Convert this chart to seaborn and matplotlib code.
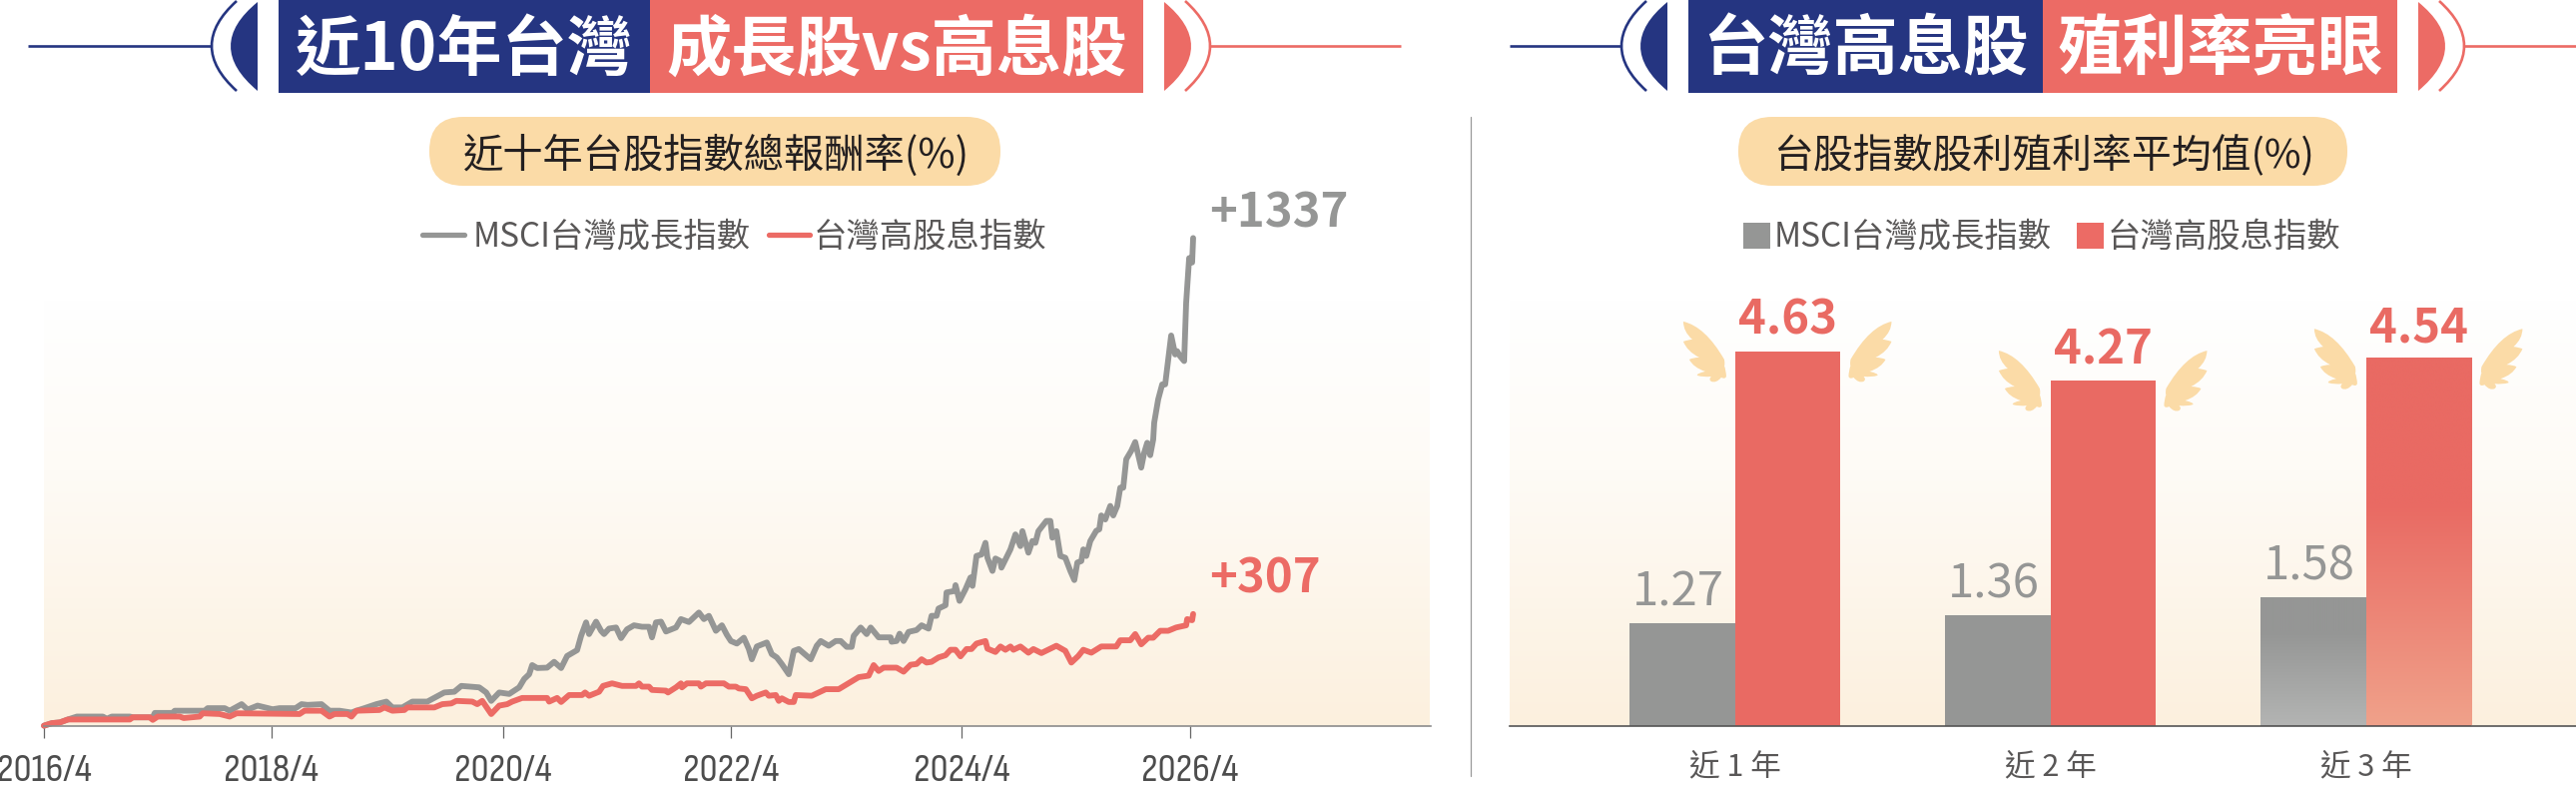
import numpy as np
import pandas as pd
import matplotlib
matplotlib.use("Agg")
import matplotlib.pyplot as plt
from matplotlib.colors import LinearSegmentedColormap
from matplotlib.lines import Line2D
from matplotlib.patches import FancyBboxPatch, PathPatch, Rectangle
from matplotlib.path import Path
import seaborn as sns

# Total return: (trading-sample number since 2016/4, cumulative return %)
growth_points = [(0,1),(8,8),(16,10),(24,18),(33,26),(39,26),(59,26),(63,20),(68,26),(86,26),(89,24),(109,24),(111,36),(129,36),(131,42),(161,42),(164,49),(181,49),(186,42),(198,60),(204,45),(214,56),(229,46),(236,49),(252,49),(258,60),(264,58),(278,60),(286,42),(296,42),(308,37),(313,42),(321,49),(333,60),(343,67),(349,51),(359,51),(369,67),(384,67),(401,92),(411,94),(418,110),(436,106),(443,92),(448,69),(456,92),(466,88),(476,106),(481,129),(486,142),(489,167),(494,159),(504,160),(511,176),(518,159),(524,192),(534,208),(538,247),(543,284),(546,252),(553,286),(558,261),(561,252),(566,267),(573,270),(578,241),(584,265),(591,276),(599,272),(606,272),(609,243),(613,284),(618,286),(623,259),(633,270),(638,293),(646,285),(656,311),(661,293),(666,302),(673,261),(679,276),(684,250),(688,233),(694,226),(701,242),(706,211),(709,183),(714,218),(724,229),(729,197),(734,188),(739,170),(746,142),(751,206),(756,211),(768,183),(774,220),(778,233),(786,220),(793,233),(798,233),(804,217),(809,217),(811,247),(818,270),(824,252),(828,270),(836,243),(848,243),(849,231),(854,233),(857,253),(861,233),(866,258),(874,263),(879,276),(886,267),(889,302),(894,302),(896,322),(903,331),(904,366),(912,370),(913,386),(917,343),(923,375),(928,407),(930,384),(934,466),(939,470),(943,502),(945,461),(950,425),(953,459),(958,452),(959,434),(968,484),(973,525),(978,493),(980,534),(986,475),(990,507),(993,502),(996,534),(1004,562),(1008,562),(1010,516),(1014,534),(1018,466),(1023,461),(1028,425),(1032,400),(1035,448),(1039,452),(1041,484),(1044,466),(1048,507),(1054,535),(1057,539),(1059,577),(1063,566),(1068,603),(1071,577),(1075,603),(1078,653),(1081,653),(1084,731),(1089,754),(1093,778),(1099,708),(1102,749),(1105,776),(1108,742),(1111,785),(1112,831),(1116,895),(1120,936),(1123,936),(1129,1070),(1133,1018),(1135,1027),(1138,1013),(1142,1000),(1144,1159),(1147,1282),(1150,1270),(1151,1337)]
income_points = [(0,1),(8,8),(16,10),(24,18),(86,18),(89,24),(106,24),(109,17),(114,26),(136,26),(140,22),(156,26),(159,35),(176,33),(186,26),(193,35),(256,33),(261,42),(278,42),(286,26),(291,33),(304,33),(308,26),(313,42),(336,44),(341,51),(349,42),(361,44),(364,51),(391,51),(399,60),(408,62),(413,69),(429,67),(434,60),(439,69),(448,33),(456,56),(464,60),(469,67),(479,77),(504,77),(506,67),(514,77),(518,66),(526,85),(539,85),(542,92),(546,83),(556,94),(560,110),(569,117),(579,110),(593,110),(596,117),(599,108),(606,108),(609,99),(623,97),(625,92),(633,106),(638,117),(639,106),(644,117),(656,117),(658,108),(663,117),(681,117),(686,108),(693,108),(696,103),(703,101),(709,76),(714,83),(723,92),(726,83),(733,85),(736,69),(739,76),(746,66),(751,66),(753,85),(769,83),(783,101),(796,101),(816,134),(826,138),(831,167),(836,151),(841,160),(854,160),(861,149),(868,168),(874,170),(879,183),(884,174),(889,176),(896,188),(903,194),(908,209),(913,209),(918,191),(924,211),(929,211),(934,226),(943,233),(945,212),(953,203),(958,218),(963,209),(968,218),(971,209),(978,218),(986,201),(991,211),(999,200),(1014,220),(1023,206),(1029,174),(1036,192),(1041,209),(1049,201),(1059,218),(1074,218),(1078,235),(1088,235),(1093,252),(1099,224),(1106,242),(1111,242),(1118,261),(1126,261),(1134,270),(1144,276),(1145,293),(1150,290),(1151,307)]
series_names = ["MSCI台灣成長指數", "台灣高股息指數"]
axis_ticks = [0, 228, 460, 688, 919, 1148]
axis_labels = ["2016/4", "2018/4", "2020/4", "2022/4", "2024/4", "2026/4"]

# Average dividend yield
periods = ["近 1 年", "近 2 年", "近 3 年"]
growth_yield = [1.27, 1.36, 1.58]
income_yield = [4.63, 4.27, 4.54]

NAVY = "#253581"
RED = "#EC6B65"
BAR_RED = "#E96A63"
GRAY = "#959695"
SAND = "#FBDBA7"
INK = "#231F20"
SOFT = "#595757"
W, H = 2580, 788

sns.set_theme(style="white")
plt.rcParams["font.family"] = ["Noto Sans CJK TC", "DejaVu Sans"]

fig = plt.figure(figsize=(W / 100, H / 100), dpi=100, facecolor="white")


def px_axes(x0, y0, x1, y1, **kw):
    """Axes placed by figure pixels, y measured from the top."""
    return fig.add_axes([x0 / W, 1 - y1 / H, (x1 - x0) / W, (y1 - y0) / H], **kw)


# Pixel canvas behind both charts for headers, pills and soft backdrops
canvas = px_axes(0, 0, W, H, zorder=0)
canvas.set_axis_off()
fade = LinearSegmentedColormap.from_list("fade", [(0, "#FFFFFF"), (0.4, "#FEFBF6"), (1, "#FCF0DE")])
ramp = np.linspace(0, 1, 256).reshape(-1, 1)
for bx0, bx1 in [(44, 1432), (1512, 2580)]:
    canvas.imshow(ramp, cmap=fade, extent=(bx0, bx1, 727, 300), aspect="auto", zorder=1)
canvas.set_xlim(0, W)
canvas.set_ylim(H, 0)


def header(nx0, nx1, rx1, left_line, right_line, left_text, right_text):
    canvas.add_patch(Rectangle((nx0, 0), nx1 - nx0, 93, fc=NAVY, ec="none", zorder=2))
    canvas.add_patch(Rectangle((nx1, 0), rx1 - nx1, 93, fc=RED, ec="none", zorder=2))
    for edge, sign, color in [(nx0, -1, NAVY), (rx1, 1, RED)]:
        flat = edge + sign * 21
        seg = Path([(flat, 2), (flat + sign * 54, 46), (flat, 91)],
                   [Path.MOVETO, Path.CURVE3, Path.CURVE3])
        canvas.add_patch(PathPatch(seg, fc=color, ec="none", zorder=2))
        tip = edge + sign * 42
        arc = Path([(tip, 1), (tip + sign * 50, 46), (tip, 91)],
                   [Path.MOVETO, Path.CURVE3, Path.CURVE3])
        canvas.add_patch(PathPatch(arc, fc="none", ec=color, lw=1.9, zorder=2))
    canvas.plot(left_line, [46, 46], color=NAVY, lw=1.9, solid_capstyle="butt", zorder=2)
    canvas.plot(right_line, [46, 46], color=RED, lw=1.9, solid_capstyle="butt", zorder=2)
    canvas.text((nx0 + nx1) / 2, 50, left_text, color="white", fontsize=47, fontweight="bold",
                ha="center", va="center", zorder=3)
    canvas.text((nx1 + rx1) / 2, 50, right_text, color="white", fontsize=47, fontweight="bold",
                ha="center", va="center", zorder=3)


header(279, 651, 1145, (28, 212), (1212, 1403), "近10年台灣", "成長股vs高息股")
header(1691, 2046, 2401, (1512, 1623), (2468, 2580), "台灣高息股", "殖利率亮眼")


def pill(x0, x1, text, size):
    canvas.add_patch(FancyBboxPatch((x0 + 34, 117 + 34), x1 - x0 - 68, 1,
                                    boxstyle="round,pad=34,rounding_size=34",
                                    fc=SAND, ec="none", zorder=2))
    canvas.text((x0 + x1) / 2 + 2, 156, text, color=INK, fontsize=size, ha="center", va="center", zorder=3)


pill(430, 1002, "近十年台股指數總報酬率(%)", 29)
pill(1741, 2351, "台股指數股利殖利率平均值(%)", 28.7)

canvas.plot([1473, 1473], [117, 777], color="#9A9A9A", lw=0.9, zorder=2)

# Legends
canvas.add_line(Line2D([423, 465], [235, 235], color=GRAY, lw=3.8, zorder=3))
canvas.text(474, 237, series_names[0], color=SOFT, fontsize=24, va="center", zorder=3)
canvas.add_line(Line2D([770, 811], [235, 235], color=RED, lw=3.8, zorder=3))
canvas.text(815, 237, series_names[1], color=SOFT, fontsize=24, va="center", zorder=3)
canvas.add_patch(Rectangle((1746, 223), 27, 26, fc=GRAY, ec="none", zorder=3))
canvas.text(1777, 237, series_names[0], color=SOFT, fontsize=24, va="center", zorder=3)
canvas.add_patch(Rectangle((2080, 223), 27, 26, fc=RED, ec="none", zorder=3))
canvas.text(2111, 237, series_names[1], color=SOFT, fontsize=24, va="center", zorder=3)

# Total return lines
line_ax = px_axes(44, 200, 1433, 727, zorder=2)
line_ax.patch.set_visible(False)
growth_frame = pd.DataFrame(growth_points, columns=["obs", "ret"]).assign(index_name=series_names[0])
income_frame = pd.DataFrame(income_points, columns=["obs", "ret"]).assign(index_name=series_names[1])
returns = pd.concat([growth_frame, income_frame], ignore_index=True)
sns.lineplot(data=returns, x="obs", y="ret", hue="index_name", estimator=None, legend=False,
             palette={series_names[0]: GRAY, series_names[1]: RED}, linewidth=4.2, ax=line_ax,
             solid_joinstyle="round", clip_on=False)
line_ax.set_xlim(0, 1389)
line_ax.set_ylim(0, 527 / 0.3655)
line_ax.set_xlabel("")
line_ax.set_ylabel("")
line_ax.set_yticks([])
line_ax.set_xticks(axis_ticks, axis_labels)
line_ax.tick_params(axis="x", bottom=True, length=8.6, width=0.9, color="#666666", pad=11,
                    labelsize=29, labelcolor="#4D4D4D")
for lab in line_ax.get_xticklabels():
    lab.set_family(["Sofia Sans Condensed", "Noto Sans CJK TC"])
sns.despine(ax=line_ax, left=True)
line_ax.spines["bottom"].set_color("#8C8C8C")
line_ax.spines["bottom"].set_linewidth(1.2)
for frame, color, lift in [(growth_frame, GRAY, 25), (income_frame, RED, 35)]:
    obs, ret = frame["obs"].iloc[-1], frame["ret"].iloc[-1]
    line_ax.annotate(f"+{ret}", xy=(obs, ret), xytext=(16, lift),
                     textcoords="offset pixels", color=color, fontsize=34, fontweight="bold",
                     ha="left", va="center", annotation_clip=False)

# Dividend yield bars
bar_ax = px_axes(1512, 290, 2580, 726.5, zorder=2)
bar_ax.patch.set_visible(False)
yields = pd.concat([
    pd.DataFrame({"period": periods, "yield": growth_yield, "index_name": series_names[0]}),
    pd.DataFrame({"period": periods, "yield": income_yield, "index_name": series_names[1]}),
], ignore_index=True)
sns.barplot(data=yields, x="period", y="yield", hue="index_name", width=0.668, gap=0, legend=False,
            palette={series_names[0]: GRAY, series_names[1]: BAR_RED}, saturation=1, linewidth=0, ax=bar_ax)
bar_ax.set_xlim(-0.715, 2.665)
bar_ax.set_ylim(0, 436.5 / 80.9)
bar_ax.set_xlabel("")
bar_ax.set_ylabel("")
bar_ax.set_yticks([])
bar_ax.tick_params(axis="x", length=0, pad=19, labelsize=22, labelcolor=SOFT)
for lab in bar_ax.get_xticklabels():
    lab.set_fontweight("light")
sns.despine(ax=bar_ax, left=True)
bar_ax.spines["bottom"].set_color("#555555")
bar_ax.spines["bottom"].set_linewidth(1.2)

growth_bars, income_bars = bar_ax.containers[0], bar_ax.containers[1]
for bar, value in zip(growth_bars, growth_yield):
    bar_ax.annotate(f"{value:.2f}", xy=(bar.get_x() + bar.get_width() / 2, value), xytext=(-4, 31),
                    textcoords="offset pixels", color=GRAY, fontsize=34, fontweight="light",
                    ha="center", va="center")
for bar, value in zip(income_bars, income_yield):
    bar_ax.annotate(f"{value:.2f}", xy=(bar.get_x() + bar.get_width() / 2, value), xytext=(0, 31),
                    textcoords="offset pixels", color=BAR_RED, fontsize=34, fontweight="bold",
                    ha="center", va="center")

# The three-year pair lightens toward the baseline
for bar, solid_end, stops in [(growth_bars[2], 0.27, [GRAY, GRAY, "#B3B4B3"]),
                              (income_bars[2], 0.40, [BAR_RED, BAR_RED, "#F0A18A"])]:
    cmap = LinearSegmentedColormap.from_list("lift", list(zip([0, solid_end, 1], stops)))
    bar_ax.imshow(1 - ramp, cmap=cmap, aspect="auto", zorder=3, interpolation="bilinear", origin="upper",
                  extent=(bar.get_x(), bar.get_x() + bar.get_width(), bar.get_height(), 0))
bar_ax.set_xlim(-0.715, 2.665)
bar_ax.set_ylim(0, 436.5 / 80.9)

# Little wings beside each high-yield bar
wing_pts = [(0, 0), (22, 5), (41, 38), (42, 44), (41, 44), (43, 50), (43, 55), (42, 58), (38, 56),
            (33, 62), (28, 60), (25, 58), (28, 55), (20, 56), (14, 54), (13, 52), (22, 50),
            (10, 46), (6, 38), (10, 36), (16, 36), (4, 30), (0, 20), (6, 18), (9, 18), (0, 10), (0, 0)]
wing_codes = [Path.MOVETO] + [Path.CURVE3] * (len(wing_pts) - 1)
to_canvas = canvas.transData.inverted()
for bar in income_bars:
    (lx, ty) = to_canvas.transform(bar_ax.transData.transform((bar.get_x(), bar.get_height())))
    (rx, _) = to_canvas.transform(bar_ax.transData.transform((bar.get_x() + bar.get_width(), 0)))
    left = [(lx - 52 + dx, ty - 30 + dy) for dx, dy in wing_pts]
    right = [(rx + 51 - dx, ty - 30 + dy) for dx, dy in wing_pts]
    canvas.add_patch(PathPatch(Path(left, wing_codes), fc=SAND, ec="none", zorder=2))
    canvas.add_patch(PathPatch(Path(right, wing_codes), fc=SAND, ec="none", zorder=2))

fig.savefig("out.png", dpi=100, facecolor="white")
